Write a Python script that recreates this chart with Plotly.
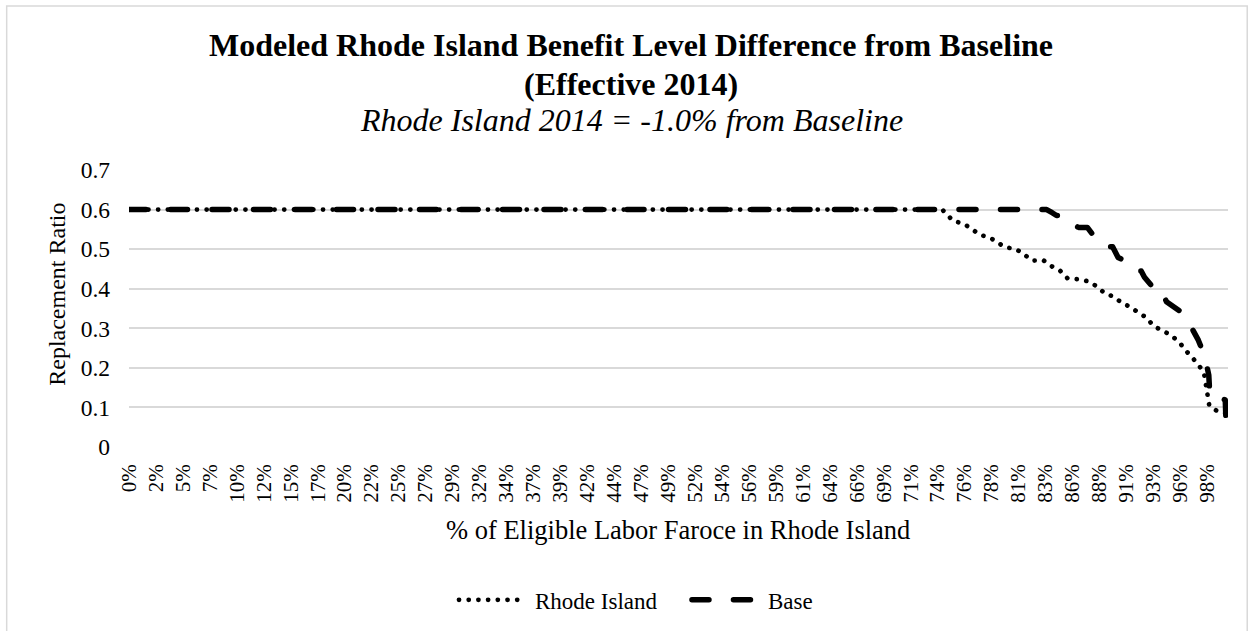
import plotly.graph_objects as go

# ---- data -------------------------------------------------------------
# x: share of the eligible labor force (percent), y: replacement ratio
ri_pct = [0, 74.0, 75.0, 75.9, 76.7, 77.4, 78.3, 79.0, 79.7, 80.7, 81.4,
          82.15, 83.2, 84.0, 84.7, 85.4, 86.4, 87.4, 88.1, 88.8, 89.6,
          90.4, 91.2, 91.9, 92.6, 93.2, 94.0, 94.8, 95.6, 96.1, 96.7,
          97.3, 97.8, 98.3, 99.0, 99.8]
ri_ratio = [0.600, 0.600, 0.571, 0.565, 0.551, 0.536, 0.530, 0.519, 0.505, 0.500, 0.488,
            0.471, 0.472, 0.456, 0.446, 0.426, 0.424, 0.418, 0.405, 0.388, 0.380,
            0.363, 0.353, 0.338, 0.327, 0.306, 0.296, 0.283, 0.264, 0.245, 0.228,
            0.209, 0.190, 0.104, 0.091, 0.085]

base_pct = [0, 83.5, 84.0, 84.4, 84.8, 85.1, 86.4, 87.2, 87.8, 88.9, 89.5,
            90.0, 91.4, 91.8, 92.1, 92.4, 93.3, 93.9, 94.4, 95.7, 96.6,
            97.3, 97.9, 98.25, 98.35, 99.75, 99.8]
base_ratio = [0.600, 0.600, 0.592, 0.585, 0.585, 0.572, 0.555, 0.555, 0.533, 0.506, 0.506,
              0.479, 0.460, 0.445, 0.445, 0.429, 0.399, 0.399, 0.367, 0.342, 0.306,
              0.270, 0.228, 0.182, 0.131, 0.119, 0.080]

x_tick_labels = ["0%", "2%", "5%", "7%", "10%", "12%", "15%", "17%", "20%", "22%",
                 "25%", "27%", "29%", "32%", "34%", "37%", "39%", "42%", "44%", "47%",
                 "49%", "52%", "54%", "56%", "59%", "61%", "64%", "66%", "69%", "71%",
                 "74%", "76%", "78%", "81%", "83%", "86%", "88%", "91%", "93%", "96%",
                 "98%"]

# ---- styling ----------------------------------------------------------
FONT = "Liberation Serif, Times New Roman, serif"
GRID = "#d9d9d9"
LABEL_STEP = 2.4527  # percent between category labels

fig = go.Figure()
fig.add_trace(go.Scatter(
    x=ri_pct, y=ri_ratio, mode="lines", name="Rhode Island",
    line=dict(color="black", width=4.7, dash="0.1px,9.6px"),
))
fig.add_trace(go.Scatter(
    x=base_pct, y=base_ratio, mode="lines", name="Base",
    line=dict(color="black", width=5.5, dash="17px,24.5px"),
))

fig.update_layout(
    width=1253, height=631, autosize=False,
    margin=dict(l=129, r=25, t=170, b=184, autoexpand=False),
    paper_bgcolor="white", plot_bgcolor="white",
    font=dict(family=FONT, color="black"),
    showlegend=True,
    legend=dict(orientation="h", x=0.333, xanchor="left", y=-0.552, yanchor="middle",
                entrywidthmode="pixels", entrywidth=188,
                font=dict(size=23, family=FONT, color="black"),
                bgcolor="rgba(0,0,0,0)"),
    xaxis=dict(
        range=[0, 100], showgrid=False, zeroline=False, showline=False,
        tickmode="array",
        tickvals=[k * LABEL_STEP for k in range(len(x_tick_labels))],
        ticktext=x_tick_labels, tickangle=-90, ticks="",
        tickfont=dict(size=21, family=FONT, color="black"),
        ticklabelstandoff=12, automargin=False,
    ),
    yaxis=dict(
        range=[0, 0.7], dtick=0.1, tick0=0, showgrid=True, gridcolor=GRID, gridwidth=1.5,
        zeroline=False, showline=False, ticks="",
        tickfont=dict(size=23.5, family=FONT, color="black"),
        ticklabelstandoff=18, automargin=False,
    ),
    annotations=[
        dict(text="<b>Modeled Rhode Island Benefit Level Difference from Baseline</b>",
             xref="paper", yref="paper", x=0.4568, y=1.4513, xanchor="center", yanchor="middle",
             showarrow=False, font=dict(size=32, family=FONT, color="black")),
        dict(text="<b>(Effective 2014)</b>",
             xref="paper", yref="paper", x=0.4568, y=1.3105, xanchor="center", yanchor="middle",
             showarrow=False, font=dict(size=32, family=FONT, color="black")),
        dict(text="<i>Rhode Island 2014 = -1.0% from Baseline</i>",
             xref="paper", yref="paper", x=0.4568, y=1.1805, xanchor="center", yanchor="middle",
             showarrow=False, font=dict(size=32, family=FONT, color="black")),
        dict(text="% of Eligible Labor Faroce in Rhode Island",
             xref="paper", yref="paper", x=0.4991, y=-0.30, xanchor="center", yanchor="middle",
             showarrow=False, font=dict(size=26.5, family=FONT, color="black")),
        dict(text="Replacement Ratio", textangle=-90,
             xref="paper", yref="paper", x=-0.0658, y=0.552, xanchor="center", yanchor="middle",
             showarrow=False, font=dict(size=24, family=FONT, color="black")),
    ],
    shapes=[
        dict(type="rect", xref="paper", yref="paper",
             x0=-0.1113, x1=1.0175, y0=-0.70, y1=1.592,
             line=dict(color=GRID, width=1.5), fillcolor="rgba(0,0,0,0)", layer="below"),
    ],
)

# round line caps so the dotted series draws as round dots; longer legend keys
finish = (
    "document.querySelectorAll('.js-line, .legendlines path, .scatterlayer path')"
    ".forEach(function(p){p.style.strokeLinecap='round';p.style.strokeLinejoin='round';});"
    "document.querySelectorAll('.legendlines path')"
    ".forEach(function(p){p.setAttribute('d','M-36,0h64');});"
    "document.querySelectorAll('.legend [clip-path]')"
    ".forEach(function(e){e.removeAttribute('clip-path');});"
)

fig.write_html("out.html", post_script=finish)
